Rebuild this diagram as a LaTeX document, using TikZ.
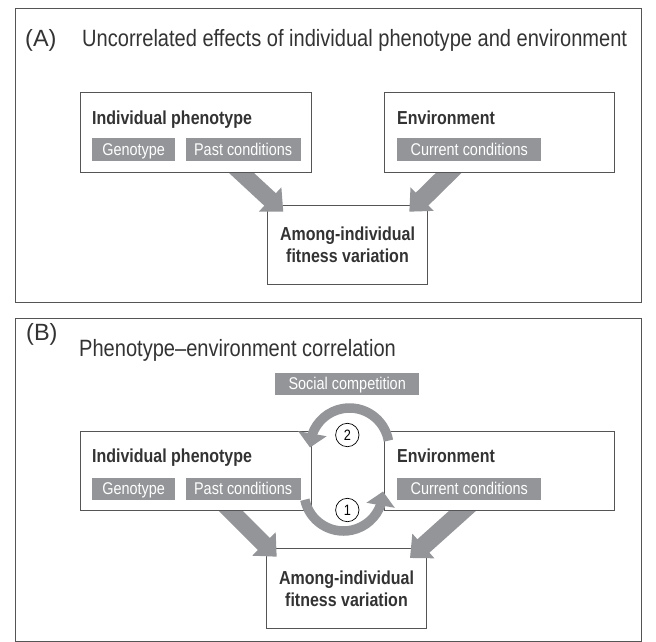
\documentclass[tikz,border=0pt]{standalone}
\usepackage{fontspec}
\setmainfont{Liberation Sans}[FakeStretch=0.85]
\newfontfamily\widesans{Liberation Sans}
\usetikzlibrary{arrows.meta, positioning, calc, bending}
\pgfdeclarelayer{background}
\pgfdeclarelayer{middle}
\pgfsetlayers{background,middle,main}
\definecolor{boxgray}{RGB}{147,149,152}
\definecolor{inkgray}{RGB}{51,51,51}
\definecolor{rulegray}{RGB}{85,85,85}
\tikzset{panel/.style={draw=rulegray, line width=1pt, inner sep=0pt, anchor=north west}}
\tikzset{box/.style={draw=rulegray, line width=1pt, fill=white, inner sep=0pt, anchor=north west}}
\tikzset{fitbox/.style={box, align=center, text=inkgray, font=\bfseries\fontsize{18.8}{22}\selectfont}}
\tikzset{tag/.style={fill=boxgray, text=white, inner sep=0pt, minimum height=22.7pt, text height=12.2pt, text depth=0pt, font=\fontsize{17}{20}\selectfont}}
\tikzset{heading/.style={text=inkgray, inner sep=0pt, font=\bfseries\fontsize{18.8}{22}\selectfont}}
\tikzset{paneltitle/.style={text=inkgray, inner sep=0pt, anchor=base west, font=\fontsize{23.6}{28}\selectfont}}
\tikzset{letter/.style={text=inkgray, inner sep=0pt, anchor=base west, font=\widesans\fontsize{23.5}{28}\selectfont}}
\tikzset{flow/.style={draw=boxgray, line width=17pt, -{Triangle[length=18pt, width=32pt]}}}
\tikzset{loop/.style={draw=boxgray, line width=9.5pt, -{Triangle[length=14pt, width=28pt]}}}
\tikzset{num/.style={circle, draw=black, line width=0.7pt, fill=white, inner sep=0pt, minimum size=23.4pt, font=\fontsize{15}{18}\selectfont}}

\begin{document}
\begin{tikzpicture}[x=1pt, y=-1pt]
\useasboundingbox (0,0) rectangle (656,642);

% (A) uncorrelated
\begin{pgfonlayer}{background}
\node[panel, minimum width=626.3pt, minimum height=293.7pt] (frameA) at (14.7,8.3) {};
\node[fitbox, minimum width=160pt, minimum height=79.5pt] (fitA) at (267,204.5) {Among-individual\\fitness variation};
\end{pgfonlayer}
\node[letter] (letA) at (25,47) {(A)};
\node[paneltitle] (titleA) at (82,47) {Uncorrelated effects of individual phenotype and environment};

\node[box, minimum width=230.5pt, minimum height=80pt] (phenoA) at (80,92.3) {};
\node[box, minimum width=230pt, minimum height=80pt] (envA) at (384,92.3) {};
\node[heading, below right=31.7pt and 12pt of phenoA.north west, anchor=base west] (phenoAhead) {Individual phenotype};
\node[tag, minimum width=83pt, below right=45.7pt and 12pt of phenoA.north west] (genoA) {Genotype};
\node[tag, minimum width=115pt, right=10pt of genoA] (pastA) {Past conditions};
\node[heading, below right=31.7pt and 13pt of envA.north west, anchor=base west] (envAhead) {Environment};
\node[tag, minimum width=144pt, below right=45.7pt and 13pt of envA.north west] (currA) {Current conditions};

\begin{pgfonlayer}{middle}
\draw[flow] ($(phenoA.south west)+(154.4,-6.9)$) -- ($(fitA.north west)+(16.3,7.2)$);
\draw[flow, line width=18pt] ($(envA.south west)+(71.4,-7)$) -- ($(fitA.north east)+(-18.7,7.2)$);
\end{pgfonlayer}

% (B) correlated
\begin{pgfonlayer}{background}
\node[panel, minimum width=626.3pt, minimum height=323pt] (frameB) at (14.7,318.3) {};
\node[fitbox, minimum width=160pt, minimum height=80pt] (fitB) at (266,548.3) {Among-individual\\fitness variation};
\end{pgfonlayer}
\node[letter] (letB) at (26,340) {(B)};
\node[paneltitle] (titleB) at (79,356) {Phenotype--environment correlation};
\node[tag, minimum width=144pt, minimum height=22pt, anchor=north west] (social) at (275,372.3) {Social competition};

\node[box, minimum width=230.5pt, minimum height=79.5pt] (phenoB) at (80,430.5) {};
\node[box, minimum width=230pt, minimum height=79.5pt] (envB) at (384,430.5) {};
\node[heading, below right=32.2pt and 12pt of phenoB.north west, anchor=base west] (phenoBhead) {Individual phenotype};
\node[tag, minimum width=83pt, below right=46.8pt and 12pt of phenoB.north west] (genoB) {Genotype};
\node[tag, minimum width=115pt, right=10pt of genoB] (pastB) {Past conditions};
\node[heading, below right=32.2pt and 13pt of envB.north west, anchor=base west] (envBhead) {Environment};
\node[tag, minimum width=144pt, below right=46.8pt and 13pt of envB.north west] (currB) {Current conditions};

\begin{pgfonlayer}{middle}
\draw[flow] ($(phenoB.south west)+(143.8,-7.1)$) -- ($(fitB.north west)+(10.7,8.4)$);
\draw[flow, line width=18pt] ($(envB.south west)+(85.6,-6.5)$) -- ($(fitB.north east)+(-17,9.7)$);
\end{pgfonlayer}

\coordinate (loopone) at (343.5,491.5);
\coordinate (looptwo) at (349.5,447.5);
\draw[loop] ($(loopone)+(168:39.5)$) arc[start angle=168, end angle=0, radius=39.5];
\draw[loop] ($(looptwo)+(-10:39.5)$) arc[start angle=-10, end angle=-180, radius=39.5];
\node[num] (numone) at (347.3,510) {1};
\node[num] (numtwo) at (347.3,435) {2};
\end{tikzpicture}
\end{document}
